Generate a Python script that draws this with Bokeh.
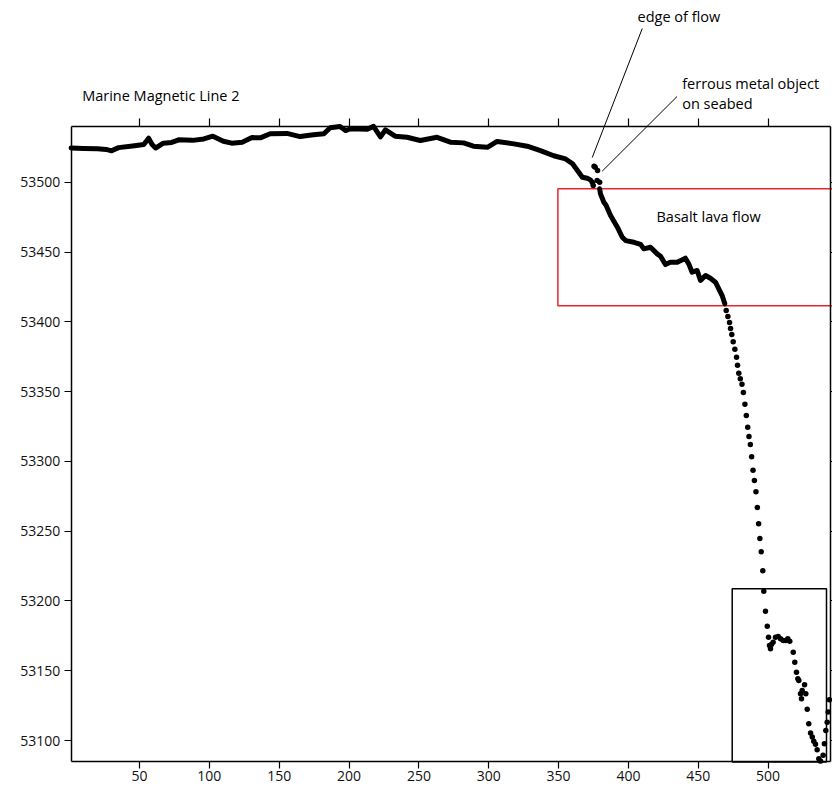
from bokeh.plotting import figure
from bokeh.models import Range1d, LinearAxis, FixedTicker, Label, Arrow, BoxAnnotation
from bokeh.embed import file_html
from bokeh.resources import INLINE

# ---------------- data ----------------
# dense run before the edge of the lava flow (distance, total field nT)
pre_x = [1, 10, 20, 26, 30, 35, 45, 53, 56.5, 59, 61.5, 67, 73, 78, 88, 96, 102.5,
         110, 116, 123.5, 130.5, 136.5, 143.5, 155.5, 165, 174.5, 182, 186.5, 193.5,
         197.5, 201, 213, 217.5, 222.5, 226, 233, 241.5, 251, 263, 272.5, 282, 289,
         299, 306, 318, 327.5, 337, 346.5, 355, 360, 363.5, 367, 370.5, 373]
pre_y = [53524.5, 53524.2, 53524, 53523.5, 53522.5, 53524.8, 53526, 53527, 53531.5,
         53527, 53524.5, 53528, 53528.5, 53530.4, 53530, 53531, 53533, 53529.4, 53528,
         53528.7, 53532, 53531.8, 53534.7, 53535, 53532.7, 53534, 53534.7, 53539, 53540,
         53537, 53538.3, 53538, 53540, 53532.5, 53537.5, 53533, 53532.2, 53529.9,
         53532.2, 53528.7, 53528.2, 53525.8, 53525, 53529.2, 53527.5, 53525.8, 53522.7,
         53519, 53516.7, 53513.2, 53508.4, 53503.6, 53502.9, 53501.5]

# dense run over the basalt lava flow
flow_x = [379.4, 380, 382.4, 384, 387.2, 392, 395.6, 398, 404, 408.7, 411, 415.8,
          420.6, 423, 426.5, 430, 435, 440.8, 443.2, 445.6, 449.2, 451.6, 455.2, 458.7,
          462.3, 464.7, 467.1, 469]
flow_y = [53495.3, 53491.7, 53485.7, 53483.5, 53476.2, 53468, 53460.6, 53458.2, 53457,
          53455.5, 53452.3, 53453.4, 53448.7, 53447, 53441, 53442.7, 53442.7, 53445.6,
          53441.5, 53435.5, 53436.8, 53429.6, 53433.2, 53431.2, 53428.4, 53423.6,
          53418.8, 53412.9]

# separate samples (edge of flow, ferrous object, steep gradient beyond the flow)
dot_x = [374.1, 374.8, 375.4, 376.2, 377.6, 377.9, 379.4,
         470.0, 471.2, 472.4, 473.1, 474.0, 475.0, 476.2, 477.4, 478.1, 479.0, 480.1,
         481.3, 482.3, 483.4, 484.4, 485.4, 486.3, 487.3, 488.2, 489.2, 490.2, 491.3,
         492.3, 493.2, 494.1, 495.1, 496.2, 496.9, 498.1, 499.4, 500.3, 501.0, 501.7,
         502.4, 503.6, 505.3, 507.2, 508.9, 510.8, 512.5, 514.1, 515.5, 518.0, 519.1,
         520.3, 521.3, 522.0, 523.2, 523.9, 524.4, 526.1, 527.0, 528.0, 529.1, 530.4,
         531.6, 532.7, 533.9, 535.1, 536.3, 537.5, 539.4, 540.3, 541.3, 542.3, 543.0,
         543.9]
dot_y = [53500, 53497.6, 53511.5, 53510.7, 53501.2, 53508.4, 53500,
         53408.1, 53403.8, 53399.5, 53395.2, 53390.9, 53385.7, 53380.4, 53374.6,
         53368.9, 53363.2, 53359.2, 53355.3, 53349.4, 53341.0, 53332.9, 53324.5,
         53317.8, 53312.1, 53303.3, 53293.7, 53286.3, 53278.2, 53267.0, 53255.3,
         53244.8, 53235.2, 53221.6, 53207.0, 53192.7, 53181.9, 53174.1, 53168.1,
         53165.8, 53168.8, 53170.5, 53174.1, 53174.6, 53172.9, 53171.7, 53171.7,
         53172.9, 53171.2, 53163.3, 53156.2, 53149.0, 53144.3, 53143.1, 53133.6,
         53130.0, 53135.9, 53140.0, 53133.6, 53122.4, 53112.1, 53105.4, 53102.5,
         53099.6, 53097.3, 53093.5, 53087.0, 53085.3, 53089.4, 53097.7, 53107.3,
         53113.2, 53120.4, 53129.2]

x_ticks = [50, 100, 150, 200, 250, 300, 350, 400, 450, 500]
y_ticks = [53100, 53150, 53200, 53250, 53300, 53350, 53400, 53450, 53500]

title_text = "Marine Magnetic Line 2"
note_edge = "edge of flow"
note_ferrous = ["ferrous metal object", "on seabed"]
note_flow = "Basalt lava flow"

# plotted box (axes extent) and the visible canvas extent, in data units
X_AXIS = (1.07, 544.67)
Y_AXIS = (53084.7, 53539.9)
X_VIEW = (-49.54, 546.1)
Y_VIEW = (53062.8, 53630.2)

# annotation regions (data units)
flow_box = dict(left=349.5, right=560, top=53495.3, bottom=53411.5)
steep_box = dict(left=474.3, right=541.8, top=53208.7, bottom=53084.7)

FONT = "Open Sans"

p = figure(width=832, height=792, output_backend="svg", toolbar_location=None,
           x_range=Range1d(*X_VIEW), y_range=Range1d(*Y_VIEW),
           min_border=0, x_axis_location=None, y_axis_location=None)
p.background_fill_color = "white"
p.border_fill_color = "white"
p.outline_line_color = None
p.xgrid.visible = False
p.ygrid.visible = False


def make_axis(ticks, fixed, bounds, tick_out, show_labels=True):
    ax = LinearAxis(fixed_location=fixed, bounds=bounds)
    ax.ticker = FixedTicker(ticks=ticks)
    ax.axis_line_color = "black"
    ax.axis_line_width = 1.5
    ax.major_tick_line_color = "black"
    ax.major_tick_line_width = 1.2
    ax.major_tick_in = 0
    ax.major_tick_out = tick_out
    ax.minor_tick_line_color = None
    ax.major_label_text_font = FONT
    ax.major_label_text_font_size = "14px"
    ax.major_label_text_color = "#111111" if show_labels else None
    return ax


bottom = make_axis(x_ticks, Y_AXIS[0], X_AXIS, 7)
bottom.major_label_standoff = 2
p.add_layout(bottom, "below")

top = make_axis(x_ticks, Y_AXIS[1], X_AXIS, 8, show_labels=False)
p.add_layout(top, "above")

left = make_axis(y_ticks, X_AXIS[0], Y_AXIS, 7)
left.major_label_standoff = 4
p.add_layout(left, "left")

right = make_axis(y_ticks, X_AXIS[1], Y_AXIS, 5, show_labels=False)
p.add_layout(right, "right")

# boxes
p.add_layout(BoxAnnotation(**flow_box, fill_alpha=0, line_color="#e8262a",
                           line_alpha=1, line_width=1.5, level="underlay"))
p.add_layout(BoxAnnotation(**steep_box, fill_alpha=0, line_color="black",
                           line_alpha=1, line_width=1.5, level="underlay"))

# data
p.line(pre_x, pre_y, line_color="black", line_width=5, line_join="round", line_cap="round")
p.line(flow_x, flow_y, line_color="black", line_width=5, line_join="round", line_cap="round")
p.scatter(dot_x, dot_y, size=5.5, fill_color="black", line_color=None)

# annotation leader lines
p.add_layout(Arrow(end=None, x_start=409.9, y_start=53610.1, x_end=374.1, y_end=53517.7,
                   line_color="black", line_width=1))
p.add_layout(Arrow(end=None, x_start=434.8, y_start=53561.4, x_end=381.2, y_end=53507.9,
                   line_color="black", line_width=1))


def add_text(txt, x, y):
    p.add_layout(Label(x=x, y=y, text=txt, text_font=FONT, text_font_size="14.5px",
                       text_color="black", text_baseline="middle", text_align="left"))


add_text(title_text, 8.9, 53562.1)
add_text(note_edge, 406.5, 53618.7)
add_text(note_ferrous[0], 438.5, 53570.9)
add_text(note_ferrous[1], 438.5, 53556.6)
add_text(note_flow, 420.1, 53475.6)

open("out.html", "w").write(file_html(p, INLINE))
